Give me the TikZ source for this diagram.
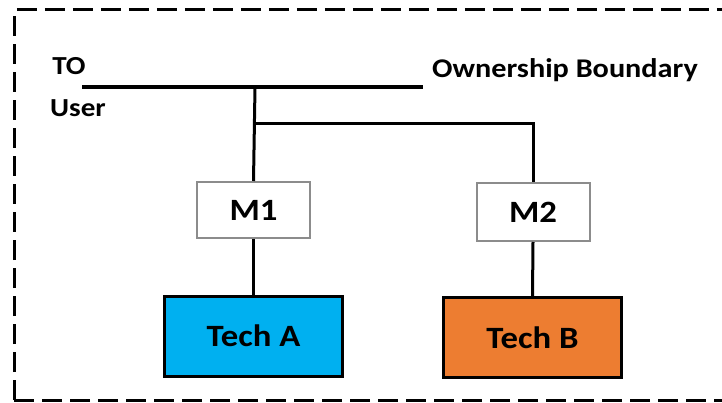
\documentclass[tikz,border=0pt]{standalone}
\usepackage{fontspec}
\usepackage{tikz}
\usetikzlibrary{positioning, calc}
\newfontfamily\boxfont[FakeStretch=1.12]{Carlito}
\definecolor{techblue}{HTML}{00B0F0}
\definecolor{techorange}{HTML}{ED7D31}
\definecolor{mgray}{HTML}{8C8C8C}

\tikzset{
  wire/.style={line width=3pt},
  mbox/.style={draw=mgray, line width=2pt, fill=white, minimum width=113pt,
               minimum height=56pt, font=\boxfont\bfseries\fontsize{31}{31}\selectfont},
  techbox/.style={draw=black, line width=3pt, minimum width=178pt,
               minimum height=80pt, font=\boxfont\bfseries\fontsize{31}{31}\selectfont},
  tag/.style={font=\boxfont\bfseries\fontsize{26}{26}\selectfont, inner sep=0pt}
}

\begin{document}
\begin{tikzpicture}[x=1pt, y=-1pt]

\useasboundingbox (0,0) rectangle (722,403);
\clip (0,0) rectangle (722,403);

% dashed frame
\draw[line width=3pt, dash pattern=on 20pt off 8pt, rounded corners=2pt]
  (14,400) -- (14,10) -- (740,10);
\draw[line width=3pt, dash pattern=on 20pt off 8pt] (14,400) -- (740,400);

% ownership line
\coordinate (bl) at (82,87);
\coordinate (br) at (423,87);
\coordinate (j)  at (255,87);
\coordinate (k)  at (254,124);
\draw[line width=4pt] (bl) -- (br);

\node[tag] (to)   at (69,66)  {TO};
\node[tag] (user) at (78,108) {User};
\node[tag, font=\boxfont\bfseries\fontsize{27}{27}\selectfont] (own) at (565,70) {Ownership Boundary};

\node[mbox] (m1) at (253.5,210) {M1};
\node[mbox, minimum height=58pt] (m2) at (533,212) {M2};

\node[techbox, fill=techblue]   (ta) at (253.5,336)   {Tech A};
\node[techbox, fill=techorange] (tb) at (532.5,337.5) {Tech B};

\draw[wire] (j) -- (m1.north);
\draw[wire] (k) -| (m2.north);
\draw[wire] (m1.south) -- (ta.north);
\draw[wire] (m2.south) -- (tb.north);

\end{tikzpicture}
\end{document}
